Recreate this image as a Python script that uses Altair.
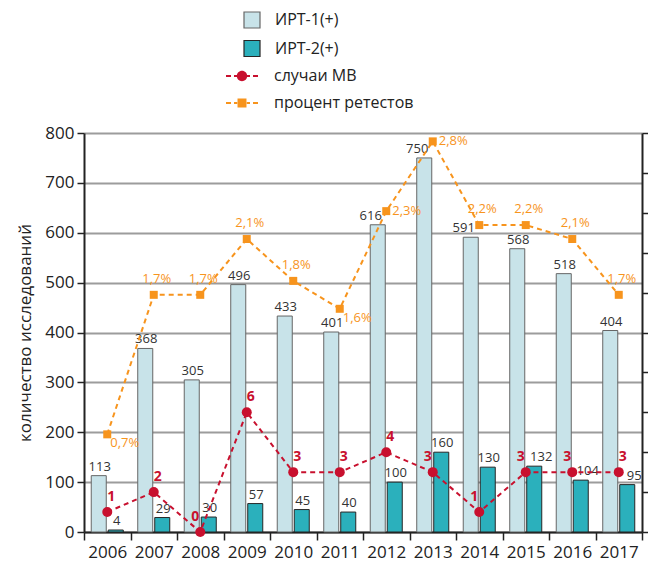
import altair as alt
import pandas as pd

# ---- data -------------------------------------------------------------
years = ["2006", "2007", "2008", "2009", "2010", "2011",
         "2012", "2013", "2014", "2015", "2016", "2017"]
irt1_pos = [113, 368, 305, 496, 433, 401, 616, 750, 591, 568, 518, 404]
irt2_pos = [4, 29, 30, 57, 45, 40, 100, 160, 130, 132, 104, 95]
mv_cases = [1, 2, 0, 6, 3, 3, 4, 3, 1, 3, 3, 3]
retest_pct = [0.7, 1.7, 1.7, 2.1, 1.8, 1.6, 2.3, 2.8, 2.2, 2.2, 2.1, 1.7]

bar_series = ["ИРТ-1(+)", "ИРТ-2(+)"]
mv_name = "случаи МВ"
pct_name = "процент ретестов"

bars_df = pd.DataFrame({
    "year": years * 2,
    "series": [bar_series[0]] * len(years) + [bar_series[1]] * len(years),
    "value": irt1_pos + irt2_pos,
})
mv_df = pd.DataFrame({"year": years, "cases": mv_cases, "line_series": mv_name})
pct_df = pd.DataFrame({"year": years, "pct": retest_pct, "line_series": pct_name})

# ---- styling ----------------------------------------------------------
LIGHT = "#c8e3e9"
TEAL = "#2bb0bc"
RED = "#c8102e"
ORANGE = "#f7941d"
INK = "#222222"
FONT = "Open Sans"

# secondary (percent) scale and its unlabeled ticks
PCT_LO, PCT_HI = 0.0, 2.86
pct_ticks = [PCT_LO + i * (PCT_HI - PCT_LO) / 10 for i in range(11)]

# legend glyphs: dashed stroke with the series marker in the middle
DASHES = ("M-2,-0.13H-1.375V0.13H-2Z M-1,-0.13H-0.6V0.13H-1Z "
          "M0.6,-0.13H1V0.13H0.6Z M1.375,-0.13H2V0.13H1.375Z ")
MV_GLYPH = DASHES + "M0.65,0A0.65,0.65 0 1,1 -0.65,0A0.65,0.65 0 1,1 0.65,0Z"
PCT_GLYPH = DASHES + "M-0.56,-0.56H0.56V0.56H-0.56Z"

x_enc = alt.X(
    "year:N", sort=years,
    scale=alt.Scale(paddingInner=0, paddingOuter=0),
    axis=alt.Axis(title=None, labelAngle=0, tickBand="extent", tickSize=8,
                  tickWidth=1.5, tickColor=INK, domainColor=INK, domainWidth=2,
                  labelFontSize=17, labelColor=INK, labelPadding=4, grid=False),
)
xoff_enc = alt.XOffset("series:N", sort=bar_series,
                       scale=alt.Scale(paddingInner=0.1176, paddingOuter=0.426))

y_left = alt.Y(
    "value:Q",
    scale=alt.Scale(domain=[0, 800], nice=False),
    axis=alt.Axis(values=list(range(0, 801, 100)), tickSize=7, tickWidth=1.5,
                  tickColor=INK, domainColor=INK, domainWidth=2,
                  labelFontSize=17, labelColor=INK, labelPadding=3,
                  grid=True, gridColor="#9c9c9c", gridWidth=2,
                  title="количество исследований", titleFontSize=17,
                  titleFontWeight="normal", titleColor=INK, titlePadding=10),
)

# ---- bars -------------------------------------------------------------
bar_legend = alt.Legend(
    title=None, orient="none", direction="vertical",
    legendX=159, legendY=-122, symbolType="square", symbolSize=256,
    symbolStrokeWidth=1.2, labelFontSize=16, labelColor=INK,
    labelFont=FONT, labelOffset=14, rowPadding=6.5,
)
bars = alt.Chart(bars_df).mark_bar(strokeWidth=1, opacity=1).encode(
    x=x_enc,
    xOffset=xoff_enc,
    y=y_left,
    fill=alt.Fill("series:N",
                  scale=alt.Scale(domain=bar_series, range=[LIGHT, TEAL]),
                  legend=bar_legend),
    stroke=alt.Stroke("series:N",
                      scale=alt.Scale(domain=bar_series, range=["#666666", "#262626"]),
                      legend=bar_legend),
)

# value labels above the bars; a few are nudged clear of the lines
lbl = alt.Chart(bars_df).encode(x=x_enc, xOffset=xoff_enc, y=y_left, text="value:Q")
shift_left = ("datum.series === 'ИРТ-1(+)' && "
              "indexof(['2012', '2013', '2014'], datum.year) >= 0")
shift_right = ("datum.series === 'ИРТ-2(+)' && "
               "indexof(['2015', '2016', '2017'], datum.year) >= 0")
lbl_mid = lbl.transform_filter(f"!({shift_left}) && !({shift_right})").mark_text(
    fontSize=13, color="#333333", baseline="bottom", dx=1, dy=-2)
lbl_left = lbl.transform_filter(shift_left).mark_text(
    fontSize=13, color="#333333", baseline="bottom", dx=-7, dy=-2)
lbl_right = lbl.transform_filter(shift_right).mark_text(
    fontSize=13, color="#333333", baseline="bottom", dx=7, dy=-2)

bar_layer = alt.layer(bars, lbl_mid, lbl_left, lbl_right)


def line_legend(glyph, legend_y):
    return alt.Legend(
        title=None, orient="none", direction="vertical",
        legendX=150, legendY=legend_y, symbolType=glyph, symbolSize=256,
        symbolStrokeWidth=0, symbolOpacity=1, labelFontSize=16,
        labelColor=INK, labelFont=FONT, labelOffset=24,
    )


# ---- percent of retests (right axis) ------------------------------------
y_pct = alt.Y(
    "pct:Q",
    scale=alt.Scale(domain=[PCT_LO, PCT_HI], nice=False, zero=False),
    axis=alt.Axis(orient="right", values=pct_ticks, labels=False, tickSize=6,
                  tickWidth=1.5, tickColor=INK, domainColor=INK, domainWidth=2,
                  grid=False, title=None),
)
pct_base = alt.Chart(pct_df).encode(x=x_enc, y=y_pct)
pct_line = pct_base.mark_line(color=ORANGE, strokeDash=[5, 4], strokeWidth=2)
pct_pts = pct_base.mark_square(size=64, opacity=1).encode(
    color=alt.Color("line_series:N",
                    scale=alt.Scale(domain=[pct_name], range=[ORANGE]),
                    legend=line_legend(PCT_GLYPH, -38))
)

pct_text = pct_base.transform_calculate(
    label="replace(format(datum.pct, '.1f'), '.', ',') + '%'"
)
pct_above = pct_text.transform_filter(
    "indexof(['2006', '2011', '2012', '2013'], datum.year) < 0"
).mark_text(color=ORANGE, fontSize=13, baseline="bottom", dx=3, dy=-9).encode(text="label:N")
pct_right = pct_text.transform_filter(
    "indexof(['2012', '2013'], datum.year) >= 0"
).mark_text(color=ORANGE, fontSize=13, align="left", baseline="middle", dx=6).encode(text="label:N")
pct_below = pct_text.transform_filter(
    "indexof(['2006', '2011'], datum.year) >= 0"
).mark_text(color=ORANGE, fontSize=13, align="left", baseline="top", dx=3, dy=3).encode(text="label:N")

pct_layer = alt.layer(pct_line, pct_pts, pct_above, pct_right, pct_below)

# ---- measles cases (own hidden scale) ----------------------------------
y_mv = alt.Y("cases:Q", scale=alt.Scale(domain=[0, 20], nice=False), axis=None)
mv_base = alt.Chart(mv_df).encode(x=x_enc, y=y_mv)
mv_line = mv_base.mark_line(color=RED, strokeDash=[5, 4], strokeWidth=2)
mv_pts = mv_base.mark_circle(size=100, opacity=1).encode(
    color=alt.Color("line_series:N",
                    scale=alt.Scale(domain=[mv_name], range=[RED]),
                    legend=line_legend(MV_GLYPH, -65))
)
mv_left = mv_base.transform_filter(
    "indexof(['2008', '2013', '2014', '2015', '2016'], datum.year) >= 0"
).mark_text(color=RED, fontSize=14, fontWeight="bold", baseline="bottom",
            dx=-5, dy=-8).encode(text="cases:Q")
mv_right = mv_base.transform_filter(
    "indexof(['2008', '2013', '2014', '2015', '2016'], datum.year) < 0"
).mark_text(color=RED, fontSize=14, fontWeight="bold", baseline="bottom",
            dx=4, dy=-8).encode(text="cases:Q")

mv_layer = alt.layer(mv_line, mv_pts, mv_left, mv_right)

chart = (
    alt.layer(bar_layer, pct_layer, mv_layer)
    .resolve_scale(y="independent", color="independent")
    .properties(
        width=558, height=399,
        padding={"left": 84, "top": 133, "right": 6, "bottom": 34},
        autosize=alt.AutoSizeParams(type="none"),
    )
    .configure(font=FONT)
    .configure_view(stroke=None)
)

chart.save("out.html", embed_options={"renderer": "svg", "actions": False})
